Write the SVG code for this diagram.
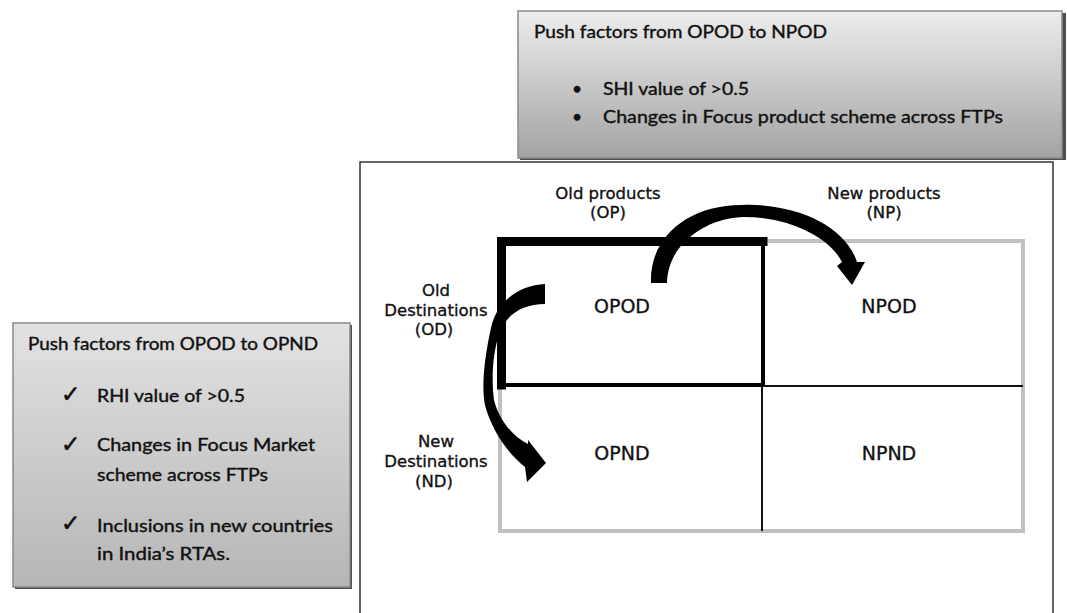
<svg xmlns="http://www.w3.org/2000/svg" width="1067" height="613" viewBox="0 0 1067 613">
<defs>
<linearGradient id="gradTop" x1="0" y1="0" x2="0" y2="1">
<stop offset="0" stop-color="#ededed"/>
<stop offset="1" stop-color="#a3a3a3"/>
</linearGradient>
<linearGradient id="gradLeft" x1="0" y1="0" x2="0" y2="1">
<stop offset="0" stop-color="#e2e2e2"/>
<stop offset="1" stop-color="#b6b6b6"/>
</linearGradient>
</defs>
<style>
.shadow{fill:#4d4d4d}
.box{stroke:#8a8a8a;stroke-width:1.5}
.note{font-family:Lato,"Open Sans","Liberation Sans",sans-serif;font-size:17.5px;fill:#111;stroke:#111;stroke-width:0.4}
.mark{font-family:"DejaVu Sans",sans-serif;font-size:23px;fill:#111;stroke:#111;stroke-width:0.6}
.lbl{font-family:"DejaVu Sans","Liberation Sans",sans-serif;font-size:16.5px;fill:#111;stroke:#111;stroke-width:0.35;text-anchor:middle}
.cell{font-family:"DejaVu Sans","Liberation Sans",sans-serif;font-size:19px;fill:#111;stroke:#111;stroke-width:0.35;text-anchor:middle}
.grid{fill:none;stroke:#111;stroke-width:2}
.bold{fill:none;stroke:#000;stroke-linecap:square}
.arrow{fill:#000}
</style>
<rect x="0" y="0" width="1067" height="613" fill="#fff"/>

<g id="frame">
<rect x="360" y="162" width="693" height="470" fill="#fff" stroke="#333" stroke-width="1.5"/>
</g>

<g id="node-top-box">
<rect class="shadow" x="520" y="13" width="546" height="147"/>
<rect class="box" x="518" y="11" width="544" height="147" fill="url(#gradTop)"/>
<text class="note" x="534" y="38" textLength="293" lengthAdjust="spacingAndGlyphs">Push factors from OPOD to NPOD</text>
<text class="note" x="572" y="95">•</text>
<text class="note" x="603" y="95" textLength="146" lengthAdjust="spacingAndGlyphs">SHI value of &gt;0.5</text>
<text class="note" x="572" y="123">•</text>
<text class="note" x="603" y="123" textLength="400" lengthAdjust="spacingAndGlyphs">Changes in Focus product scheme across FTPs</text>
</g>

<g id="node-left-box">
<rect class="shadow" x="15" y="325" width="337" height="264"/>
<rect class="box" x="13" y="323" width="337" height="264" fill="url(#gradLeft)"/>
<text class="note" x="28" y="350" textLength="290" lengthAdjust="spacingAndGlyphs">Push factors from OPOD to OPND</text>
<text class="mark" x="61" y="402">✓</text>
<text class="note" x="97" y="402" textLength="148" lengthAdjust="spacingAndGlyphs">RHI value of &gt;0.5</text>
<text class="mark" x="61" y="452">✓</text>
<text class="note" x="97" y="451" textLength="218" lengthAdjust="spacingAndGlyphs">Changes in Focus Market</text>
<text class="note" x="97" y="481" textLength="171" lengthAdjust="spacingAndGlyphs">scheme across FTPs</text>
<text class="mark" x="61" y="531">✓</text>
<text class="note" x="97" y="532" textLength="236" lengthAdjust="spacingAndGlyphs">Inclusions in new countries</text>
<text class="note" x="97" y="560" textLength="133" lengthAdjust="spacingAndGlyphs">in India’s RTAs.</text>
</g>

<g id="axis-labels">
<text class="lbl" x="608" y="199">Old products</text>
<text class="lbl" x="608" y="218">(OP)</text>
<text class="lbl" x="884" y="199">New products</text>
<text class="lbl" x="884" y="218">(NP)</text>
<text class="lbl" x="436" y="296">Old</text>
<text class="lbl" x="436" y="316">Destinations</text>
<text class="lbl" x="434" y="335">(OD)</text>
<text class="lbl" x="436" y="447">New</text>
<text class="lbl" x="436" y="467">Destinations</text>
<text class="lbl" x="434" y="487">(ND)</text>
</g>

<g id="grid">
<rect x="500" y="241" width="523" height="290" fill="#fff" stroke="#c0c0c0" stroke-width="4"/>
<line class="grid" x1="762" y1="385" x2="762" y2="531"/>
<line class="grid" x1="763" y1="386" x2="1023" y2="386"/>
</g>

<g id="node-opod">
<line class="bold" x1="501.5" y1="241.5" x2="763" y2="241.5" stroke-width="9"/>
<line class="bold" x1="501.5" y1="241.5" x2="501.5" y2="385" stroke-width="9"/>
<line class="bold" x1="763" y1="241.5" x2="763" y2="385" stroke-width="4"/>
<line class="bold" x1="501.5" y1="385" x2="763" y2="385" stroke-width="4"/>
<text class="cell" x="622" y="313">OPOD</text>
</g>
<g id="node-npod">
<text class="cell" x="889" y="313">NPOD</text>
</g>
<g id="node-opnd">
<text class="cell" x="622" y="460">OPND</text>
</g>
<g id="node-npnd">
<text class="cell" x="889" y="460">NPND</text>
</g>

<g id="connectors">
<path class="arrow" d="M 651,283 C 649,240 685,205 742,205 C 795,203 845,225 857,262 L 865,262 L 852,285 L 837,266 L 842,262 C 830,238 790,217 744,217 C 712,217 668,240 667,283 Z"/>
<path class="arrow" d="M 545,284 C 521,285 497,300 491,328 C 485,355 481,385 485,405 C 491,428 506,452 525,467 L 527,482 L 546,463 L 528,440 L 528,444 C 513,437 499,420 494,400 C 491,378 493,350 500,332 C 507,314 523,304 545,304 Z"/>
</g>
</svg>
